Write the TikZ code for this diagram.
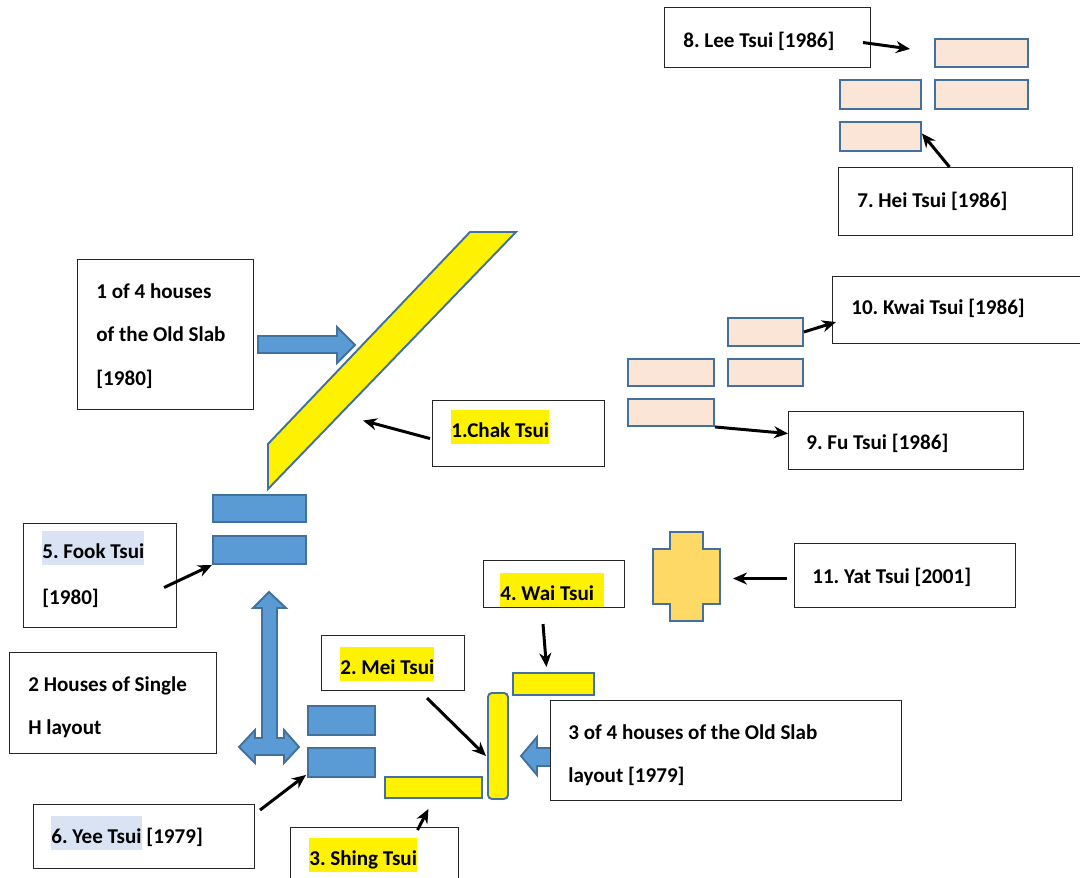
\documentclass[tikz,border=0pt]{standalone}
\usepackage{fontspec}
\setmainfont{Carlito}
\frenchspacing
\usetikzlibrary{arrows.meta,calc}
\definecolor{shapeblue}{RGB}{91,155,213}
\definecolor{edgeblue}{RGB}{65,113,156}
\definecolor{peach}{RGB}{251,229,214}
\definecolor{crossgold}{RGB}{255,217,102}
\definecolor{hlblue}{RGB}{218,227,243}
\newcommand{\hlt}[2]{{\setlength{\fboxsep}{0pt}\colorbox{#1}{\rule[-0.14cm]{0pt}{0.68cm}#2}}}
\tikzset{
  tbox/.style 2 args={draw=black!85, fill=white, line width=0.6pt, anchor=north west,
    inner sep=0pt, minimum width=#1*0.02cm, minimum height=#2*0.02cm},
  house/.style 2 args={draw=edgeblue, line width=1.1pt, anchor=north west,
    inner sep=0pt, minimum width=#1*0.02cm, minimum height=#2*0.02cm},
  lbl/.style={anchor=base west, inner sep=0pt, font=\bfseries\fontsize{12}{14}\selectfont},
  ptr/.style={-{Stealth[length=0.28cm,width=0.24cm]}, line width=1.7pt},
  blk/.style={draw=edgeblue, fill=shapeblue, line width=1.1pt}
}
\begin{document}
\begin{tikzpicture}[x=0.02cm,y=-0.02cm]
\useasboundingbox (0,0) rectangle (1080,877);
% houses
\node[house={93}{28}, fill=peach] (r8) at (934,38) {};
\node[house={81}{29}, fill=peach] (r8b) at (839,79) {};
\node[house={93}{29}, fill=peach] (r8c) at (934,79) {};
\node[house={81}{29}, fill=peach] (r7) at (839,121) {};
\node[house={75}{28}, fill=peach] (r10) at (727,317) {};
\node[house={86}{27}, fill=peach] (r9b) at (627,358) {};
\node[house={75}{27}, fill=peach] (r9c) at (727,358) {};
\node[house={86}{27}, fill=peach] (r9) at (627,398) {};
\node[house={93}{27}, fill=shapeblue] (b1) at (212,494) {};
\node[house={93}{28}, fill=shapeblue] (b2) at (212,535) {};
\node[house={67}{29}, fill=shapeblue] (b3) at (307,705) {};
\node[house={67}{29}, fill=shapeblue] (b4) at (307,747) {};
\node[house={81}{22}, fill=yellow] (y1) at (512,672) {};
\node[house={97}{21}, fill=yellow] (y3) at (384,776) {};
\node[house={20}{106}, fill=yellow, rounded corners=0.08cm] (y2) at (487,692) {};
\draw[draw=edgeblue, fill=yellow, line width=1.1pt]
  (470,232) -- (516,232) -- (268,489) -- (268,444) -- cycle;
\draw[draw=edgeblue, fill=crossgold, line width=1.1pt]
  (670,532) -- (703,532) -- (703,549) -- (720,549) -- (720,604) -- (703,604)
  -- (703,621) -- (670,621) -- (670,604) -- (653,604) -- (653,549) -- (670,549) -- cycle;
% block arrows
\draw[blk] (258,336) -- (337,336) -- (337,327) -- (355,345) -- (337,363)
  -- (337,353) -- (258,353) -- cycle;
\draw[blk] (269,592) -- (286,608) -- (277,608) -- (277,738) -- (284,738) -- (284,730)
  -- (299,747) -- (284,763) -- (284,755) -- (255,755) -- (255,763) -- (239,747)
  -- (255,730) -- (255,738) -- (262,738) -- (262,608) -- (253,608) -- cycle;
\draw[blk] (560,748) -- (537,748) -- (537,737) -- (521,756) -- (537,775)
  -- (537,766) -- (560,766) -- cycle;
% boxes
\node[tbox={206}{60}] (lee) at (664,7) {};
\node[tbox={234}{68}] (hei) at (838,167) {};
\node[tbox={176}{150}] (old1) at (77,259) {};
\node[tbox={253}{67}] (kwai) at (832,276) {};
\node[tbox={235}{58}] (fu) at (788,411) {};
\node[tbox={172}{66}] (chak) at (432,400) {};
\node[tbox={153}{104}] (fook) at (23,523) {};
\node[tbox={221}{64}] (yat) at (794,543) {};
\node[tbox={141}{47}] (wai) at (483,560) {};
\node[tbox={143}{55}] (mei) at (321,635) {};
\node[tbox={207}{101}] (single) at (9,652) {};
\node[tbox={351}{100}] (old3) at (550,700) {};
\node[tbox={221}{64}] (yee) at (33,804) {};
\node[tbox={168}{60}] (shing) at (290,827) {};
% labels
\node[lbl] (leeT) at (683,47) {8. Lee Tsui [1986]};
\node[lbl] (heiT) at (857,207) {7. Hei Tsui [1986]};
\node[lbl] (old1a) at (96,298) {1 of 4 houses};
\node[lbl] (old1b) at (96,341) {of the Old Slab};
\node[lbl] (old1c) at (96,385) {[1980]};
\node[lbl] (kwaiT) at (851,314) {10. Kwai Tsui [1986]};
\node[lbl] (fuT) at (806,449) {9. Fu Tsui [1986]};
\node[lbl] (chakT) at (451,437) {\hlt{yellow}{1.Chak Tsui}};
\node[lbl] (fookA) at (42,558) {\hlt{hlblue}{5. Fook Tsui}};
\node[lbl] (fookB) at (42,604) {[1980]};
\node[lbl] (yatT) at (812,583) {11. Yat Tsui [2001]};
\node[lbl] (waiT) at (500,600) {\hlt{yellow}{4. Wai Tsui\hspace{0.2cm}}};
\node[lbl] (meiT) at (340,674) {\hlt{yellow}{2. Mei Tsui}};
\node[lbl] (singleA) at (28,691) {2 Houses of Single};
\node[lbl] (singleB) at (28,734) {H layout};
\node[lbl] (old3a) at (568,739) {3 of 4 houses of the Old Slab};
\node[lbl] (old3b) at (568,782) {layout [1979]};
\node[lbl] (yeeT) at (51,843) {\hlt{hlblue}{6. Yee Tsui}\ [1979]};
\node[lbl] (shingT) at (309,865) {\hlt{yellow}{3. Shing Tsui}};
% pointers
\draw[ptr] ($(lee.east)+(-8,5)$) -- ($(r8.west)+(-24,-4)$);
\draw[ptr] ($(hei.north)+(-6,0)$) -- ($(r7.east)+(0,-3)$);
\draw[ptr] (r10.east) -- ($(kwai.west)+(4,12)$);
\draw[ptr] (r9.south east) -- ($(fu.west)+(0,-7)$);
\draw[ptr] ($(chak.west)+(-2,5)$) -- ($(chak.west)+(-69,-13)$);
\draw[ptr] ($(fook.east)+(-13,12)$) -- (b2.south west);
\draw[ptr] ($(yat.west)+(-7,3)$) -- ($(yat.west)+(-61,3)$);
\draw[ptr] ($(wai.south)+(-11,16)$) -- ($(y1.north)+(-7,-5)$);
\draw[ptr] ($(mei.south)+(34,7)$) -- ($(y2.west)+(-1,10)$);
\draw[ptr] ($(yee.north east)+(5,6)$) -- ($(b4.south west)+(-1,-3)$);
\draw[ptr] ($(shing.north)+(43,3)$) -- ($(y3.south)+(-5,10)$);
\end{tikzpicture}
\end{document}
